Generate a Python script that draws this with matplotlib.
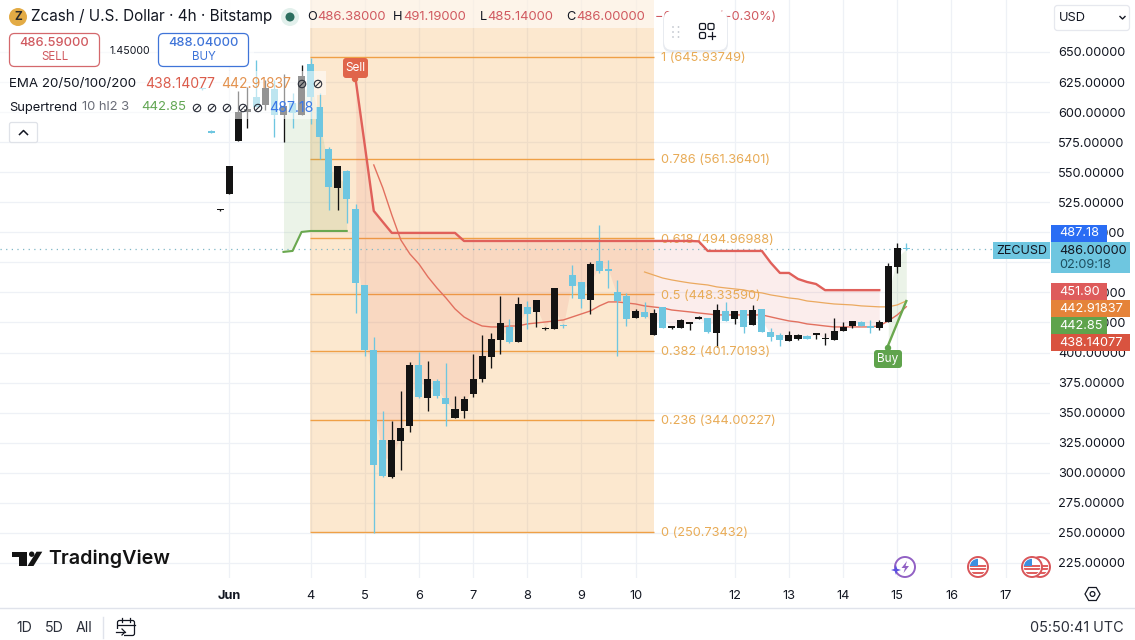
import numpy as np
import matplotlib
matplotlib.use("Agg")
import matplotlib.pyplot as plt
from matplotlib.patches import Rectangle, FancyBboxPatch, Circle, Polygon

plt.rcParams['font.family'] = ['Inter', 'DejaVu Sans']
n = float('nan')

# ---------- data ----------
opens = [619.5,584,518.2,531.9,576,600.1,612.6,605.9,619.2,597.6,607.6,597.6,640,604.3,569.3,536.9,551,519.4,456.2,402.2,
         327.3,296.5,326.5,339,389.7,362.3,376.4,362.3,345.6,351.4,365.6,378,396.3,410.5,421.3,408.8,437.9,433.8,419.6,419.6,
         423,464.5,458.7,443.7,476.2,469.5,450.4,447,428.8,433.8,414.6,437.9,420.5,420.5,423.8,428,428.8,416.3,434.6,427.9,
         435.4,422.9,436.3,417.1,414.6,409.6,411.3,413.8,414.6,410.9,410.5,418,422.1,425.4,422.1,420.5,425.4,471.2,486.38]
highs = [620,585,519.5,555.2,617.6,620.9,643.3,626.7,626.7,631.7,615.9,639.2,645,615.9,571,555.2,551.9,523.6,456.2,413,
         351.4,343.1,368,392.2,400.5,393,378,391.3,363.9,363.9,398.8,414.6,416.3,447,427.9,446.3,442.9,443.7,421.3,454,
         423.8,472.9,458.7,475.3,506.1,477,460.4,449.6,436.3,442.1,436.3,437.9,422.1,427.5,425.4,430.4,428.8,440.4,442.1,434.6,
         435.4,439.6,436.3,420.5,416.3,418,415.5,414.6,416.3,416.3,428.8,425.4,426.3,426.3,427.1,427.1,474.5,491.2,491.19]
lows = [618.5,582.5,517.5,531.9,576,586.8,604.3,601.8,579.3,575.2,586.8,597.6,590.1,561,518.6,518.6,507.8,432.9,397.2,250,
        296.5,295.7,302.4,334,362.3,351.4,362.3,338.9,345.6,345.6,363.1,375.5,387.2,398.8,408,408.8,419.6,421.3,418.8,419.6,
        420.5,445.4,437.1,432.1,466.2,453.7,397.2,422.1,428.8,428.8,414.6,420.5,419.6,420,418.8,427.9,416.3,404.6,426.3,423.8,
        416.3,422.9,417.1,409.6,405.5,409.6,410.5,411.3,411.3,406.3,410.5,418,420.5,422.1,416.3,418.8,425.4,466.2,485.14]
closes = [619,583,519,555.2,600.1,602.6,604.3,620.1,597.6,605.1,599.3,630,612.6,579.3,537.7,555.2,527.7,457.9,402.2,306.5,
          297.4,327.3,337.3,389.7,363.1,378,363.9,357.3,353.1,361.4,378,397.2,411.3,424.6,408.8,440.4,432.1,443.7,420.5,453.7,
          421.7,455.4,444.6,473.7,467.9,467.9,442.9,427.9,434.6,429.6,432.9,420.5,421.3,427.1,424.6,429.6,417.1,435.4,426.3,434.6,
          421.3,435.4,417.1,413,410.5,414.6,414.6,411.3,416.3,412.1,418,421.3,426.3,422.1,420.5,425.4,472,487,486]

st_bull_a = [n,n,n,n,n,n,n,n,n,483.7,484.5,500.3,501.1,501.1,501.1,501.1,501.1]
st_bear = [626.7,572.7,517.8,508.6,499.5,499.5,499.5,499.5,499.5,499.5,499.5,499.5,492.8,492.8,492.8,492.8,492.8,492.8,492.8,492.8,
           492.8,492.8,492.8,492.8,492.8,492.8,492.8,492.8,492.8,492.8,492.8,492.8,492.8,492.8,492.8,492.8,492.8,492.8,492.5,484.5,
           484.5,484.5,484.5,484.5,484.5,484.5,474.5,466.2,466.2,461.2,458.7,457,451.9,451.9,451.9,451.9,451.9,451.9,451.9]
st_bull_b = [406.3,424.6,442.85]

ema_red = [556,536.9,514.4,493.6,482,473.7,462.9,453.7,445.4,436.3,429.6,425.4,422.1,421.3,421.3,422.1,422.1,423.8,424.6,425.4,
           426.3,427.1,429.6,432.1,434.6,438.8,442.1,442.1,441.2,440.4,438.8,437.9,437.1,435.4,434.6,433.8,432.9,432.1,431.3,431.3,
           431.3,431.3,431.3,431.3,429.6,427.9,426.3,425.4,423.8,423,422.1,421.3,421.3,421.3,421.3,421.3,422.1,426.3,431.3,438.14]
ema_orange = [467,464.5,462,460.4,459.1,457.9,457,456.2,454.6,453.7,452.9,452.1,450.4,449.6,447.9,446.7,445.4,444.6,442.9,442.1,
              441.2,440.4,440,439.6,438.8,438.4,438,438,439.6,442.92]

fib_ratios = ['1','0.786','0.618','0.5','0.382','0.236','0']
fib_prices = [645.93749,561.36401,494.96988,448.33590,401.70193,344.00227,250.73432]

y_ticks = [650,625,600,575,550,525,500,475,450,425,400,375,350,325,300,275,250,225]
x_tick_pos = [3,12,18,24,30,36,42,48,59,65,71,77,83,89]
x_tick_lab = ['Jun','4','5','6','7','8','9','10','12','13','14','15','16','17']
last_price = 486.0

BLUE, BLACK = '#6ec6e0', '#131313'
RED, GREEN, ORANGE = '#e0605a', '#6aa84f', '#eba95f'
FIBC = '#efa046'
FIBT = '#e8ab56'
INK = '#131722'

# ---------- figure ----------
fig = plt.figure(figsize=(11.35, 6.4), dpi=100, facecolor='white')
ax = fig.add_axes([0, 62/640, 1050/1135, 578/640])
ax.set_xlim(-22.41, 93.92)
ax.set_ylim(212.5, 693.2)
for s in ax.spines.values():
    s.set_visible(False)
ax.yaxis.tick_right()
ax.set_yticks(y_ticks)
ax.set_yticklabels([f'{v:.5f}' for v in y_ticks], fontsize=9.2, color=INK)
ax.set_xticks(x_tick_pos)
ax.set_xticklabels(x_tick_lab, fontsize=9.2, color=INK)
ax.get_xticklabels()[0].set_fontweight('bold')
ax.tick_params(axis='both', length=0)
ax.tick_params(axis='y', pad=6)
ax.tick_params(axis='x', pad=8.6)
ax.grid(True, color='#eef1f6', lw=0.9, zorder=0)
ax.set_axisbelow(True)

idx = np.arange(len(opens))
o, h, l, c = map(np.array, (opens, highs, lows, closes))
mid = (o + c) / 2

# fib block
ax.fill_between([11.9, 50.04], fib_prices[-1], 693.2, color='#f39d33', alpha=0.23, lw=0, zorder=1)
ax.hlines(fib_prices, 11.9, 50.04, color=FIBC, lw=1.0, zorder=2)
for r, p in zip(fib_ratios, fib_prices):
    ax.annotate(f'{r} ({p:.5f})', (50.8, p), xytext=(0, -0.9), textcoords='offset points',
                color=FIBT, fontsize=9.2, va='center', zorder=6)

# supertrend fills
i_a = idx[:len(st_bull_a)]
ax.fill_between(i_a, st_bull_a, mid[:len(st_bull_a)], color=GREEN, alpha=0.13, lw=0, zorder=2)
i_r = idx[17:17+len(st_bear)]
ax.fill_between(i_r, st_bear, mid[i_r], color='#e0504a', alpha=0.10, lw=0, zorder=2)
i_b = idx[76:79]
ax.fill_between(i_b, st_bull_b, mid[i_b], color=GREEN, alpha=0.13, lw=0, zorder=2)

# last price line
ax.axhline(last_price, color='#7fb7c6', lw=0.9, ls=(0, (1, 3.5)), zorder=3)

# EMAs
ax.plot(idx[19:19+len(ema_red)], ema_red, color='#e2705f', lw=1.0, zorder=4)
ax.plot(idx[49:49+len(ema_orange)], ema_orange, color=ORANGE, lw=0.9, zorder=4)

# candles
cols = [BLACK if cl >= op and not (abs(cl-op) < 0.01) else BLUE for op, cl in zip(opens, closes)]
ax.vlines(idx, l, h, colors=cols, lw=0.95, zorder=5)
bot = np.minimum(o, c)
ht = np.maximum(np.abs(c - o), 1.2)
ax.bar(idx, ht, bottom=bot, width=0.78, color=cols, lw=0, zorder=5)

# supertrend lines
ax.plot(i_a, st_bull_a, color=GREEN, lw=1.5, zorder=6)
ax.plot(i_r, st_bear, color=RED, lw=1.7, zorder=6, solid_joinstyle='round')
ax.plot(i_b, st_bull_b, color=GREEN, lw=1.7, zorder=6)

# ---------- interface layer, in pixels ----------
ui = fig.add_axes([0, 0, 1, 1], zorder=5)
ui.set_xlim(0, 1135)
ui.set_ylim(640, 0)
ui.axis('off')
ui.patch.set_alpha(0)

def T(x, y, s, size=9.2, color=INK, ha='left', va='center', **kw):
    return ui.text(x, y, s, fontsize=size, color=color, ha=ha, va=va, **kw)

def R(x0, y0, x1, y1, fc, ec='none', lw=0, alpha=None, z=1):
    ui.add_patch(Rectangle((x0, y0), x1-x0, y1-y0, fc=fc, ec=ec, lw=lw, alpha=alpha, zorder=z))

def RR(x0, y0, x1, y1, fc='white', ec='none', lw=0.9, r=3, z=1, alpha=None):
    ui.add_patch(FancyBboxPatch((x0+r, y0+r), x1-x0-2*r, y1-y0-2*r, boxstyle=f'round,pad={r},rounding_size={r}',
                                fc=fc, ec=ec, lw=lw, zorder=z, alpha=alpha))

# legend veils
R(0, 0, 660, 28, 'white', alpha=0.55)
R(0, 0, 310, 30, 'white', alpha=0.95)
R(0, 30, 254, 70, 'white', alpha=0.6)
R(0, 71, 326, 95, 'white', alpha=0.55)
R(0, 95, 317, 119, 'white', alpha=0.55)

# title
ui.add_patch(Circle((18, 17), 9, fc='#e3ab45', ec='none', zorder=2))
T(18, 17, 'Z', size=8.5, color='#2b2b2b', ha='center', fontweight='bold', zorder=3)
T(31, 17, 'Zcash / U.S. Dollar · 4h · Bitstamp', size=11.0, zorder=3)
ui.add_patch(Circle((290, 17), 9, fc='#e2f0ec', ec='none', zorder=2))
ui.add_patch(Circle((290, 17), 4.5, fc='#2c6e5f', ec='none', zorder=3))
VAL = '#d0595f'
for x, s, col in [(307, 'O', INK), (317, '486.38000', VAL), (393, 'H', INK), (403, '491.19000', VAL),
                  (480, 'L', INK), (487.5, '485.14000', VAL), (566, 'C', INK), (576.5, '486.00000', VAL)]:
    T(x, 17.5, s, color=col, size=9.4 if col == VAL else 9.2, zorder=3)
T(776, 17.5, '−0.38000 (−0.30%)', color=VAL, ha='right', zorder=3)

# toolbar widget
RR(663, 12, 728, 52, fc='#dfe3ea', r=8, z=4, alpha=0.7)
RR(664, 11, 727, 50, fc='white', r=8, z=4)
for yy in (27, 32, 37):
    for xx in (673, 678.5):
        ui.add_patch(Circle((xx, yy), 0.9, fc='#c3c7cf', ec='none', zorder=5))
for xx, yy in [(699.5, 23.5), (708, 23.5), (699.5, 32.5)]:
    RR(xx, yy, xx+6, yy+6, fc='white', ec='#131722', lw=0.9, r=1.5, z=5)
ui.plot([708, 715], [35.5, 35.5], color='#131722', lw=0.9, zorder=5)
ui.plot([711.5, 711.5], [32, 39], color='#131722', lw=0.9, zorder=5)

# buy/sell
RR(9.5, 33.5, 99.5, 66.5, ec='#d4686c', r=5, z=2)
T(54.5, 43, '486.59000', color='#d0595f', ha='center', zorder=3, fontweight='medium')
T(54.5, 57, 'SELL', size=8.3, color='#d0595f', ha='center', zorder=3)
T(130, 50.5, '1.45000', size=7.6, ha='center', zorder=3)
RR(158.5, 33.5, 248.5, 66.5, ec='#3f74d8', r=5, z=2)
T(203.5, 43, '488.04000', color='#3f74d8', ha='center', zorder=3, fontweight='medium')
T(203.5, 57, 'BUY', size=8.3, color='#3f74d8', ha='center', zorder=3)

# indicator rows
T(9, 83.5, 'EMA 20/50/100/200', size=9.6, zorder=3)
T(145, 83.5, '438.14077', size=10.1, color='#db5c4c', zorder=3)
T(221, 83.5, '442.91837', size=10.0, color='#e39350', zorder=3)
T(9, 107.5, 'Supertrend', size=9.3, zorder=3)
T(81.5, 107.5, '10 hl2 3', size=9.4, color='#6a6d78', zorder=3)
T(141, 107.5, '442.85', size=9.5, color='#62a653', zorder=3)
T(269, 107.5, '487.18', size=10.2, color='#3b78e7', zorder=3)

def slashed(x, y):
    ui.add_patch(Circle((x, y), 3.7, fc='none', ec='#2a2e39', lw=0.8, zorder=3))
    ui.plot([x-2.6, x+2.6], [y+2.6, y-2.6], color='#2a2e39', lw=0.8, zorder=3)
for x, y in [(302, 84), (318, 84), (197, 108), (212, 108), (227, 108), (243, 108), (258, 108)]:
    slashed(x, y)
RR(9.5, 122.5, 37.5, 142.5, ec='#dfe2e8', r=2, z=2)
ui.plot([19.5, 23.5, 27.5], [134.5, 130.5, 134.5], color=INK, lw=1.1, zorder=3)

# sell / buy flags
RR(343, 58, 368, 78, fc='#e0654a', r=3, z=3)
ui.add_patch(Circle((355, 79), 3.2, fc='#e0654a', ec='none', zorder=3))
T(355.5, 68, 'Sell', size=8.5, color='white', ha='center', zorder=4)
RR(874, 350, 902, 368, fc='#5fa34c', r=3, z=3)
ui.add_patch(Circle((888, 348), 3.2, fc='#5fa34c', ec='none', zorder=3))
T(888, 359, 'Buy', size=8.5, color='white', ha='center', zorder=4)

# right-axis tags (stacked as the chart stacks them)
def tag(yc, s, fc, x1, col='white', h=17):
    R(1051, yc-h/2, x1, yc+h/2, fc, z=3)
    T(1059.5, yc+0.3, s, color=col, zorder=4)

tag(233, '487.18', '#2a6df4', 1107)
R(1051, 242, 1130, 273, '#6ec6e0', z=3)
T(1059.5, 250.5, '486.00000', color=INK, zorder=4)
T(1059.5, 264.5, '02:09:18', color='#1d4f60', zorder=4)
R(993, 242, 1050, 259, '#6ec6e0', z=3)
T(1021.5, 250.8, 'ZECUSD', color=INK, size=9.0, ha='center', zorder=4)
tag(291.5, '451.90', '#de5b5b', 1107)
tag(308.5, '442.91837', '#e58339', 1130)
tag(325.5, '442.85', '#5fa34c', 1107)
tag(342.5, '438.14077', '#d9533f', 1130)

# currency selector
RR(1054.5, 5.5, 1129.5, 30.5, ec='#e6e8ee', r=3, z=2)
T(1059, 18, 'USD', zorder=3)
ui.plot([1120, 1122.5, 1125], [16.5, 19, 16.5], color=INK, lw=1, zorder=3)

# logo
ui.add_patch(Polygon([(12, 551.7), (26.7, 551.7), (26.7, 566), (19.3, 566), (19.3, 556.7), (12, 556.7)], fc=BLACK, ec='none', zorder=3))
ui.add_patch(Circle((31.7, 554.2), 2.7, fc=BLACK, ec='none', zorder=3))
ui.add_patch(Polygon([(27.5, 566), (33.5, 566), (42.3, 551.7), (36.5, 551.7)], fc=BLACK, ec='none', zorder=3))
T(48.5, 559, 'TradingView', size=14.2, color=BLACK, fontweight='semibold', zorder=3)

# event icons
def flag(x, y=567, z=3):
    ui.add_patch(Circle((x, y), 10, fc='white', ec='#d9565a', lw=1.4, zorder=z))
    clip = Circle((x, y), 8.2, transform=ui.transData)
    for yy in (y-2.5, y+1, y+4.5):
        r = Rectangle((x-9, yy), 18, 2.2, fc='#e06060', ec='none', zorder=z)
        ui.add_patch(r); r.set_clip_path(clip)
    r = Rectangle((x-9, y-9), 9, 8, fc='#3d8fe0', ec='none', zorder=z)
    ui.add_patch(r); r.set_clip_path(clip)

flag(1040, z=3)
flag(1032, z=4)
flag(978)
ui.add_patch(Circle((905, 567), 10, fc='white', ec='#9261c4', lw=1.4, zorder=3))
ui.add_patch(Polygon([(907, 561), (901.5, 568), (905, 568), (903.5, 573), (909, 566), (905.5, 566)], fc='#9261c4', ec='none', zorder=4))
ui.add_patch(Polygon([(896, 565), (897.2, 568.8), (901, 570), (897.2, 571.2), (896, 575), (894.8, 571.2), (891, 570), (894.8, 568.8)],
                     fc='#5b50e0', ec='none', zorder=5))

# settings hexagon
a = np.deg2rad(np.arange(0, 360, 60))
ui.add_patch(Polygon(np.c_[1092.5 + 7.5*np.cos(a), 594 + 7.5*np.sin(a)], fc='none', ec=INK, lw=0.9, zorder=3))
ui.add_patch(Circle((1092.5, 594), 2.4, fc='none', ec=INK, lw=0.9, zorder=3))

# bottom bar
ui.plot([0, 1135], [608, 608], color='#e0e3eb', lw=1, zorder=2)
for x, s in [(24, '1D'), (54, '5D'), (84, 'All')]:
    T(x, 628.5, s, size=10.2, color='#2a2e39', ha='center', zorder=3)
ui.plot([102.5, 102.5], [617, 638], color='#e0e3eb', lw=1, zorder=2)
RR(117.5, 620.5, 134.5, 635.5, ec=INK, r=2, z=3)
R(115, 629, 124, 637, 'white', z=3)
ui.plot([117.5, 134.5], [624.5, 624.5], color=INK, lw=0.9, zorder=3)
ui.plot([122, 122], [618, 622], color=INK, lw=0.9, zorder=3)
ui.plot([130, 130], [618, 622], color=INK, lw=0.9, zorder=3)
ui.plot([116, 125], [632, 632], color=INK, lw=0.9, zorder=4)
ui.plot([122, 125, 122], [629, 632, 635], color=INK, lw=0.9, zorder=4)
T(1124, 628.5, '05:50:41 UTC', size=10.4, color='#2a2e39', ha='right', zorder=3)

fig.savefig('out.png', dpi=100)
